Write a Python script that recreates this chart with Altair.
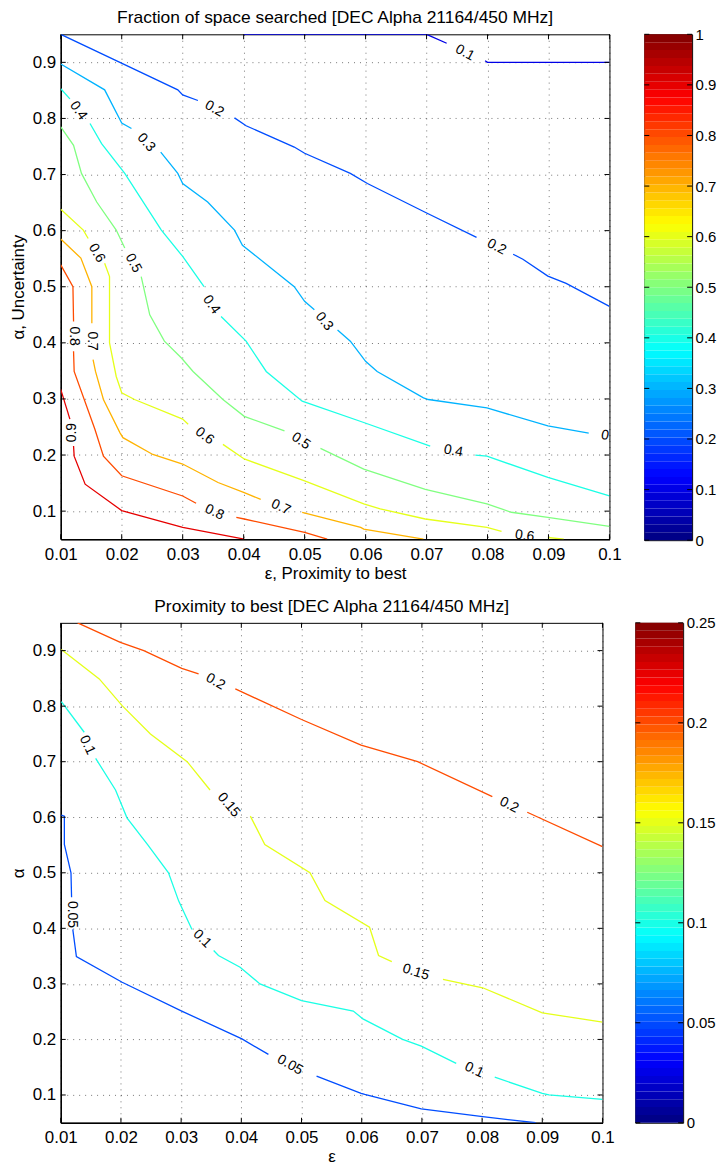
import altair as alt
import pandas as pd

FONT = "Liberation Sans"

# ---------------- common tick values ----------------
X_TICKS = [0.01, 0.02, 0.03, 0.04, 0.05, 0.06, 0.07, 0.08, 0.09, 0.1]
Y_TICKS = [0.1, 0.2, 0.3, 0.4, 0.5, 0.6, 0.7, 0.8, 0.9]
X_DOMAIN = [0.01, 0.1]
Y_DOMAIN = [0.05, 0.95]

# ---------------- top panel: fraction of space searched ----------------
TOP_TITLE = "Fraction of space searched [DEC Alpha 21164/450 MHz]"
TOP_XTITLE = "ε, Proximity to best"
TOP_YTITLE = "α, Uncertainty"
TOP_CB_MAX = 1.0
TOP_CB_TICKS = [0, 0.1, 0.2, 0.3, 0.4, 0.5, 0.6, 0.7, 0.8, 0.9, 1]

# contour polylines (eps, alpha), split where the labels sit
T01A = [(0.040, 0.95), (0.070, 0.95), (0.0733, 0.934)]
T01B = [(0.0796, 0.903), (0.080, 0.90), (0.10, 0.90)]
T02A = [(0.01, 0.95), (0.0197, 0.90), (0.0292, 0.851), (0.030, 0.842), (0.0325, 0.832)]
T02B = [(0.0385, 0.801), (0.0404, 0.787), (0.0483, 0.749), (0.050, 0.738), (0.0575, 0.702),
        (0.0603, 0.684), (0.0701, 0.631), (0.0782, 0.588)]
T02C = [(0.0842, 0.558), (0.0858, 0.549), (0.0899, 0.519), (0.0929, 0.506), (0.10, 0.465)]
T03A = [(0.01, 0.897), (0.0172, 0.851), (0.020, 0.792), (0.0216, 0.782)]
T03B = [(0.0264, 0.740), (0.0292, 0.702), (0.030, 0.684), (0.0341, 0.651), (0.0385, 0.601),
        (0.0398, 0.574), (0.0483, 0.500), (0.050, 0.474), (0.0516, 0.459)]
T03C = [(0.0554, 0.423), (0.0575, 0.403), (0.060, 0.367), (0.0619, 0.349), (0.0695, 0.302),
        (0.0703, 0.299), (0.0799, 0.284), (0.0899, 0.252), (0.0966, 0.239)]
T04A = [(0.01, 0.853), (0.0115, 0.835)]
T04B = [(0.0148, 0.791), (0.0167, 0.755), (0.0205, 0.702), (0.0265, 0.601), (0.030, 0.554),
        (0.0335, 0.500)]
T04C = [(0.0363, 0.447), (0.0404, 0.403), (0.0437, 0.349), (0.0496, 0.296), (0.0597, 0.258),
        (0.0706, 0.216)]
T04D = [(0.078, 0.200), (0.0799, 0.198), (0.0899, 0.160), (0.10, 0.127)]
T05A = [(0.01, 0.785), (0.0121, 0.752), (0.0134, 0.702), (0.0159, 0.651), (0.0191, 0.601),
        (0.0205, 0.569)]
T05B = [(0.0232, 0.518), (0.0246, 0.450), (0.0270, 0.403), (0.0298, 0.373), (0.0317, 0.349),
        (0.0366, 0.299), (0.0401, 0.269), (0.0467, 0.243)]
T05C = [(0.0526, 0.212), (0.0597, 0.175), (0.0698, 0.139), (0.0799, 0.113), (0.0839, 0.098),
        (0.0899, 0.089), (0.10, 0.073)]
T06A = [(0.01, 0.638), (0.0137, 0.601), (0.0145, 0.586)]
T06B = [(0.0172, 0.542), (0.018, 0.518), (0.018, 0.400), (0.0191, 0.340), (0.020, 0.311),
        (0.0221, 0.299), (0.030, 0.264), (0.0309, 0.255)]
T06C = [(0.0366, 0.219), (0.0401, 0.193), (0.050, 0.154), (0.0597, 0.113), (0.0624, 0.104),
        (0.0698, 0.086), (0.0799, 0.071), (0.0823, 0.064)]
T06D = [(0.0899, 0.053), (0.0925, 0.050)]
T07A = [(0.01, 0.585), (0.0133, 0.551), (0.0151, 0.500), (0.0151, 0.435)]
T07B = [(0.0153, 0.370), (0.0157, 0.349), (0.017, 0.299), (0.0197, 0.240), (0.0202, 0.231),
        (0.0251, 0.201), (0.030, 0.184), (0.0358, 0.151), (0.0401, 0.133), (0.0428, 0.121)]
T07C = [(0.0496, 0.098), (0.0592, 0.071), (0.0597, 0.068), (0.0695, 0.050)]
T08A = [(0.01, 0.539), (0.012, 0.500), (0.0121, 0.438)]
T08B = [(0.0121, 0.385), (0.0122, 0.349), (0.0156, 0.246), (0.017, 0.198), (0.020, 0.163),
        (0.030, 0.127), (0.0322, 0.114)]
T08C = [(0.0388, 0.089), (0.0401, 0.086), (0.050, 0.062), (0.0537, 0.050)]
T09A = [(0.01, 0.317), (0.0115, 0.264)]
T09B = [(0.0121, 0.216), (0.0122, 0.198), (0.014, 0.148), (0.020, 0.101), (0.030, 0.071),
        (0.0401, 0.050)]

TOP_SEGMENTS = [
    ("T01A", 0.1, T01A), ("T01B", 0.1, T01B),
    ("T02A", 0.2, T02A), ("T02B", 0.2, T02B), ("T02C", 0.2, T02C),
    ("T03A", 0.3, T03A), ("T03B", 0.3, T03B), ("T03C", 0.3, T03C),
    ("T04A", 0.4, T04A), ("T04B", 0.4, T04B), ("T04C", 0.4, T04C), ("T04D", 0.4, T04D),
    ("T05A", 0.5, T05A), ("T05B", 0.5, T05B), ("T05C", 0.5, T05C),
    ("T06A", 0.6, T06A), ("T06B", 0.6, T06B), ("T06C", 0.6, T06C), ("T06D", 0.6, T06D),
    ("T07A", 0.7, T07A), ("T07B", 0.7, T07B), ("T07C", 0.7, T07C),
    ("T08A", 0.8, T08A), ("T08B", 0.8, T08B), ("T08C", 0.8, T08C),
    ("T09A", 0.9, T09A), ("T09B", 0.9, T09B),
]

TOP_LABEL_TEXT = ["0.1", "0.2", "0.2", "0.3", "0.3", "0.3", "0.4", "0.4", "0.4", "0.5", "0.5",
                  "0.6", "0.6", "0.6", "0.7", "0.7", "0.8", "0.8", "0.9"]
TOP_LABEL_EPS = [0.0763, 0.0352, 0.0815, 0.0240, 0.0532, 0.1002, 0.0129, 0.0347, 0.0744, 0.0219,
                 0.0494, 0.0159, 0.0336, 0.0861, 0.0152, 0.0461, 0.0121, 0.0352, 0.0118]
TOP_LABEL_ALPHA = [0.917, 0.817, 0.571, 0.757, 0.438, 0.233, 0.814, 0.468, 0.207, 0.542,
                   0.225, 0.560, 0.234, 0.056, 0.403, 0.107, 0.412, 0.098, 0.240]
TOP_LABEL_ANGLE = [28, 30, 28, 48, 51, 10, 55, 55, 10, 62, 34, 60, 38, 8, 90, 25, 90, 25, 270]

# ---------------- bottom panel: proximity to best ----------------
BOT_TITLE = "Proximity to best [DEC Alpha 21164/450 MHz]"
BOT_XTITLE = "ε"
BOT_YTITLE = "α"
BOT_CB_MAX = 0.25
BOT_CB_TICKS = [0, 0.05, 0.1, 0.15, 0.2, 0.25]

B20A = [(0.0128, 0.95), (0.0199, 0.915), (0.0238, 0.900), (0.0301, 0.868), (0.0329, 0.858)]
B20B = [(0.039, 0.831), (0.050, 0.776), (0.0599, 0.730), (0.0693, 0.700), (0.0817, 0.637)]
B20C = [(0.0875, 0.609), (0.10, 0.547)]
B15A = [(0.0101, 0.902), (0.0164, 0.849), (0.0202, 0.801), (0.0249, 0.750), (0.031, 0.700),
        (0.0348, 0.649)]
B15B = [(0.0415, 0.602), (0.0439, 0.551), (0.0514, 0.500), (0.0539, 0.450), (0.0613, 0.402),
        (0.0628, 0.351), (0.065, 0.340)]
B15C = [(0.0735, 0.308), (0.0801, 0.293), (0.090, 0.248), (0.10, 0.231)]
B10A = [(0.0101, 0.808), (0.0139, 0.753)]
B10B = [(0.0158, 0.706), (0.0191, 0.649), (0.021, 0.599), (0.0244, 0.551), (0.0279, 0.500),
        (0.0296, 0.449), (0.0318, 0.398)]
B10C = [(0.0354, 0.360), (0.0362, 0.351), (0.0398, 0.330), (0.0431, 0.300), (0.050, 0.270),
        (0.0586, 0.251), (0.0602, 0.237), (0.0668, 0.200), (0.0699, 0.188), (0.0757, 0.157)]
B10D = [(0.0821, 0.132), (0.090, 0.103), (0.0911, 0.100), (0.10, 0.092)]
B05A = [(0.0101, 0.604), (0.0106, 0.602), (0.0106, 0.551), (0.0117, 0.500), (0.0118, 0.456)]
B05B = [(0.012, 0.398), (0.0126, 0.349), (0.0202, 0.303), (0.0301, 0.251), (0.0401, 0.201),
        (0.0445, 0.173)]
B05C = [(0.0525, 0.134), (0.0599, 0.103), (0.0605, 0.101), (0.0699, 0.075), (0.0801, 0.061),
        (0.0889, 0.050)]

BOT_SEGMENTS = [
    ("B20A", 0.2, B20A), ("B20B", 0.2, B20B), ("B20C", 0.2, B20C),
    ("B15A", 0.15, B15A), ("B15B", 0.15, B15B), ("B15C", 0.15, B15C),
    ("B10A", 0.1, B10A), ("B10B", 0.1, B10B), ("B10C", 0.1, B10C), ("B10D", 0.1, B10D),
    ("B05A", 0.05, B05A), ("B05B", 0.05, B05B), ("B05C", 0.05, B05C),
]

BOT_LABEL_TEXT = ["0.2", "0.2", "0.15", "0.15", "0.1", "0.1", "0.1", "0.05", "0.05"]
BOT_LABEL_EPS = [0.0357, 0.0845, 0.0379, 0.0690, 0.0144, 0.0335, 0.0787, 0.0118, 0.0481]
BOT_LABEL_ALPHA = [0.844, 0.622, 0.622, 0.321, 0.730, 0.381, 0.145, 0.425, 0.154]
BOT_LABEL_ANGLE = [30, 27, 50, 17, 65, 45, 25, 90, 30]

JET_STOPS = [0, 0.125, 0.375, 0.625, 0.875, 1]
JET_COLORS = ["#000080", "#0000ff", "#00ffff", "#ffff00", "#ff0000", "#800000"]


def jet_scale(vmax):
    return alt.Scale(domain=[s * vmax for s in JET_STOPS], range=JET_COLORS,
                     interpolate="rgb", clamp=True)


def seg_frame(segments):
    rows = []
    for name, level, pts in segments:
        for i, (e, a) in enumerate(pts):
            rows.append({"seg": name, "level": level, "i": i, "eps": e, "alpha": a})
    return pd.DataFrame(rows)


def panel(segments, ltext, leps, lalpha, langle, vmax, title, xtitle, ytitle, W, H):
    xs = alt.Scale(domain=X_DOMAIN, nice=False, zero=False)
    ys = alt.Scale(domain=Y_DOMAIN, nice=False, zero=False)
    xax = alt.Axis(values=X_TICKS, format="~g", title=xtitle, grid=True, ticks=False,
                   labelFlush=False, labelPadding=7, titlePadding=3)
    yax = alt.Axis(values=Y_TICKS, format="~g", title=ytitle, grid=True, ticks=False,
                   labelFlush=False, labelPadding=5, titlePadding=5)

    lines = alt.Chart(seg_frame(segments)).mark_line(strokeWidth=1.3, clip=True).encode(
        x=alt.X("eps:Q", scale=xs, axis=xax),
        y=alt.Y("alpha:Q", scale=ys, axis=yax),
        color=alt.Color("level:Q", scale=jet_scale(vmax), legend=None),
        detail="seg:N",
        order="i:Q",
    )
    lab_df = pd.DataFrame({"txt": ltext, "eps": leps, "alpha": lalpha, "ang": langle})
    labels = alt.Chart(lab_df).mark_text(font=FONT, fontSize=14, color="black",
                                         align="center", baseline="middle",
                                         clip=True).encode(
        x=alt.X("eps:Q", scale=xs, axis=xax),
        y=alt.Y("alpha:Q", scale=ys, axis=yax),
        text="txt:N",
        angle=alt.Angle("ang:Q", scale=None),
    )
    xt = pd.DataFrame({"eps": X_TICKS})
    yt = pd.DataFrame({"alpha": Y_TICKS})
    tick_b = alt.Chart(xt).mark_rule(color="black").encode(
        x=alt.X("eps:Q", scale=xs, axis=xax), y=alt.value(H), y2=alt.value(H - 5))
    tick_t = alt.Chart(xt).mark_rule(color="black").encode(
        x=alt.X("eps:Q", scale=xs, axis=xax), y=alt.value(0), y2=alt.value(5))
    tick_l = alt.Chart(yt).mark_rule(color="black").encode(
        y=alt.Y("alpha:Q", scale=ys, axis=yax), x=alt.value(0), x2=alt.value(5))
    tick_r = alt.Chart(yt).mark_rule(color="black").encode(
        y=alt.Y("alpha:Q", scale=ys, axis=yax), x=alt.value(W - 5), x2=alt.value(W))
    return alt.layer(lines, labels, tick_b, tick_t, tick_l, tick_r).properties(
        width=W, height=H,
        title=alt.Title(title, font=FONT, fontSize=17.5, fontWeight="normal", color="black",
                        anchor="middle", offset=7),
    )


def colorbar(vmax, ticks, W, H):
    ys = alt.Scale(domain=[0, vmax], nice=False, zero=False)
    yax = alt.Axis(orient="right", values=ticks, format="~g", title=None, ticks=False,
                   domain=False, grid=False, labelFontSize=15, labelPadding=3,
                   labelFlush=False)
    bands = alt.Chart(alt.sequence(0, 64, as_="k")).transform_calculate(
        lo=f"datum.k / 64 * {vmax}",
        hi=f"(datum.k + 1) / 64 * {vmax}",
        mid=f"(datum.k + 0.5) / 64 * {vmax}",
    ).mark_rect().encode(
        y=alt.Y("lo:Q", scale=ys, axis=yax),
        y2="hi:Q",
        x=alt.value(0), x2=alt.value(W),
        color=alt.Color("mid:Q", scale=jet_scale(vmax), legend=None),
    )
    td = pd.DataFrame({"lo": ticks})
    tl = alt.Chart(td).mark_rule(color="black").encode(
        y=alt.Y("lo:Q", scale=ys, axis=yax), x=alt.value(0), x2=alt.value(5))
    tr = alt.Chart(td).mark_rule(color="black").encode(
        y=alt.Y("lo:Q", scale=ys, axis=yax), x=alt.value(W - 5), x2=alt.value(W))
    return alt.layer(bands, tl, tr).properties(width=W, height=H)


top = alt.hconcat(
    panel(TOP_SEGMENTS, TOP_LABEL_TEXT, TOP_LABEL_EPS, TOP_LABEL_ALPHA, TOP_LABEL_ANGLE,
          TOP_CB_MAX, TOP_TITLE, TOP_XTITLE, TOP_YTITLE, 551, 507),
    colorbar(TOP_CB_MAX, TOP_CB_TICKS, 48, 508),
    spacing=21,
).resolve_scale(color="independent", x="independent", y="independent")

bot = alt.hconcat(
    panel(BOT_SEGMENTS, BOT_LABEL_TEXT, BOT_LABEL_EPS, BOT_LABEL_ALPHA, BOT_LABEL_ANGLE,
          BOT_CB_MAX, BOT_TITLE, BOT_XTITLE, BOT_YTITLE, 544, 502),
    colorbar(BOT_CB_MAX, BOT_CB_TICKS, 48, 502),
    spacing=19,
).resolve_scale(color="independent", x="independent", y="independent")

chart = alt.vconcat(top, bot, spacing=15).resolve_scale(
    color="independent", x="independent", y="independent"
).properties(
    padding={"left": 8, "top": 6, "right": 0, "bottom": 0},
    background="white",
).configure_view(
    stroke="black", strokeWidth=1
).configure_axis(
    labelFont=FONT, titleFont=FONT, labelFontSize=17, titleFontSize=17,
    labelColor="black", titleColor="black", titleFontWeight="normal",
    domainColor="black", domainWidth=1.5,
    gridColor="#000000", gridOpacity=0.55, gridDash=[1, 5], gridWidth=1,
)

chart.save("out.html", embed_options={"renderer": "svg", "actions": False})
